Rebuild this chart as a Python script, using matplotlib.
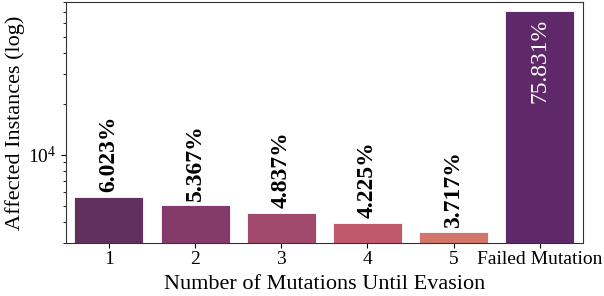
import numpy as np
import matplotlib
matplotlib.use('Agg')
import matplotlib.pyplot as plt

plt.rcParams['font.family'] = ['Liberation Serif', 'DejaVu Serif']
plt.rcParams['mathtext.fontset'] = 'stix'

# data
categories = ['1', '2', '3', '4', '5', 'Failed Mutation']
percentages = [6.023, 5.367, 4.837, 4.225, 3.717, 75.831]
total_instances = 93800
counts = [p / 100 * total_instances for p in percentages]
bar_colors = ['#62305f', '#843b6b', '#a24a6e', '#c05a6b', '#d3756b', '#5f2868']


fig = plt.figure(figsize=(6.04, 2.96), dpi=100)
ax = fig.add_axes([0.109, 0.179, 0.856, 0.814])

x = np.arange(len(categories))
bars = ax.bar(x, counts, width=0.8, color=bar_colors, edgecolor='white', linewidth=0.6)
ax.set_yscale('log')
ax.set_ylim(3000, 80000)
ax.set_xlim(-0.5, len(categories) - 0.5)

# percentage labels
for i, (b, p) in enumerate(zip(bars, percentages)):
    h = b.get_height()
    if categories[i] == 'Failed Mutation':
        ax.annotate('%.3f%%' % p, (b.get_x() + b.get_width() / 2, h), xytext=(0, -6),
                    textcoords='offset points', rotation=90, ha='center', va='top',
                    color='white', fontsize=17)
    else:
        ax.annotate('%.3f%%' % p, (b.get_x() + b.get_width() / 2, h), xytext=(0, 3),
                    textcoords='offset points', rotation=90, ha='center', va='bottom',
                    color='black', fontsize=17, fontweight='bold')

ax.set_xticks(x)
ax.set_xticklabels(categories, fontsize=14)
ax.tick_params(axis='x', pad=2)
ax.tick_params(axis='y', labelsize=14)
ax.set_xlabel('Number of Mutations Until Evasion', fontsize=16, labelpad=5)
ax.set_ylabel('Affected Instances (log)', fontsize=16, labelpad=2)

for s in ax.spines.values():
    s.set_color('#333333')

fig.savefig('out.png', dpi=100)
